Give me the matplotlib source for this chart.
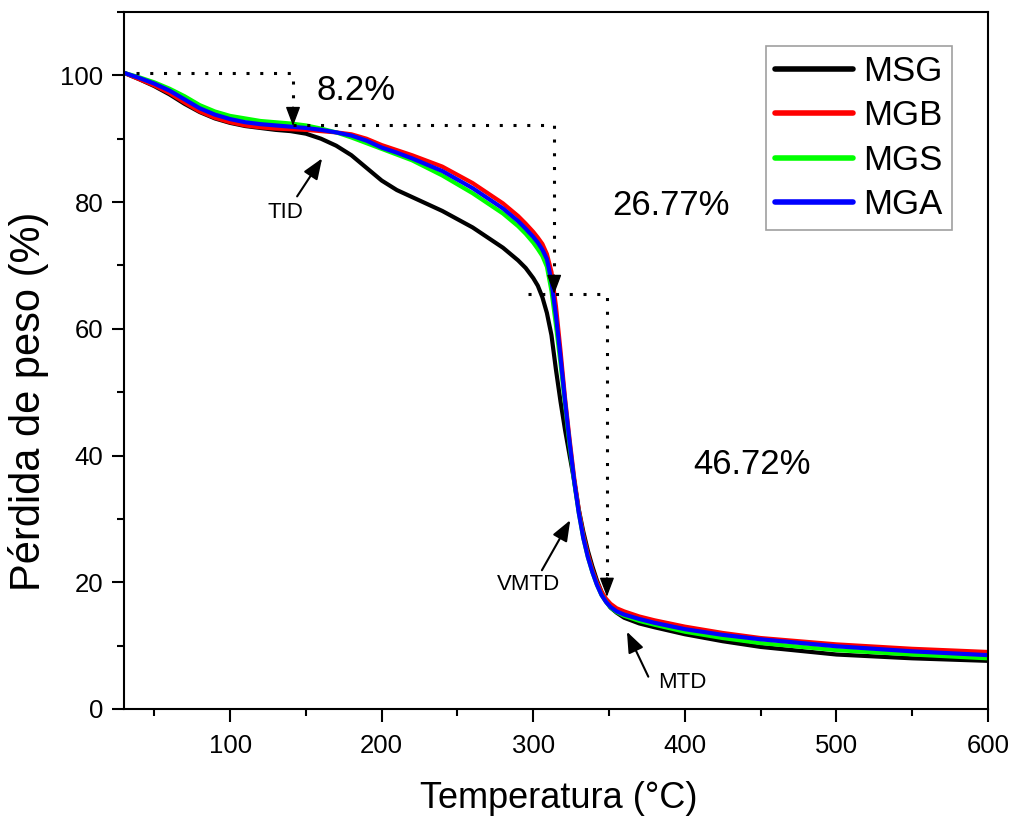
import matplotlib
matplotlib.use("Agg")
import matplotlib.pyplot as plt
from matplotlib.ticker import MultipleLocator

plt.rcParams['font.family'] = ['Liberation Sans', 'DejaVu Sans']

# ---------------- data ----------------
temp = [30, 40, 50, 60, 70, 80, 90, 100, 110, 120, 130, 140, 150, 160, 170, 180, 190,
        200, 210, 220, 240, 260, 280, 290, 295, 300, 303, 306, 309, 312, 315, 318, 321,
        324, 327, 330, 333, 336, 339, 342, 345, 348, 351, 355, 360, 370, 380, 400, 425,
        450, 500, 550, 600]

msg = [100.4, 99.4, 98.3, 97.0, 95.5, 94.2, 93.2, 92.5, 92.0, 91.7, 91.4, 91.2, 90.8, 90.0,
       88.9, 87.4, 85.4, 83.4, 81.9, 80.8, 78.6, 76.0, 72.8, 70.8, 69.6, 68.0, 66.8, 65.0,
       62.5, 59.0, 53.5, 48.5, 44.0, 40.0, 36.0, 31.5, 28.0, 25.0, 22.5, 20.3, 18.5, 17.0,
       16.0, 15.2, 14.4, 13.5, 12.9, 11.8, 10.7, 9.8, 8.6, 8.0, 7.6]

mgb = [100.4, 99.4, 98.4, 97.2, 95.7, 94.3, 93.3, 92.6, 92.1, 91.8, 91.6, 91.5, 91.4, 91.2,
       91.0, 90.7, 90.0, 89.0, 88.2, 87.4, 85.6, 83.0, 79.8, 77.8, 76.6, 75.3, 74.4, 73.4,
       71.8, 69.0, 63.5, 56.5, 49.0, 42.5, 36.5, 31.5, 27.5, 24.5, 22.0, 20.0, 18.5, 17.4,
       16.6, 15.9, 15.4, 14.6, 14.0, 13.0, 12.0, 11.2, 10.2, 9.5, 9.0]

mgs = [100.4, 99.7, 98.9, 97.9, 96.7, 95.3, 94.3, 93.6, 93.2, 92.8, 92.6, 92.4, 92.1, 91.6,
       91.0, 90.2, 89.3, 88.4, 87.5, 86.6, 84.2, 81.4, 78.2, 76.2, 75.0, 73.6, 72.6, 71.5,
       69.8, 66.0, 60.5, 54.5, 48.0, 41.5, 35.8, 31.0, 27.0, 24.0, 21.6, 19.6, 18.0, 16.9,
       16.0, 15.3, 14.7, 13.9, 13.3, 12.2, 11.2, 10.4, 9.3, 8.6, 8.0]

mga = [100.4, 99.6, 98.7, 97.6, 96.2, 94.8, 93.8, 93.1, 92.6, 92.3, 92.1, 91.9, 91.7, 91.4,
       91.0, 90.5, 89.7, 88.6, 87.8, 86.9, 84.9, 82.2, 79.0, 77.0, 75.8, 74.5, 73.6, 72.5,
       71.0, 67.5, 62.0, 55.5, 48.5, 42.0, 36.0, 31.0, 27.0, 24.0, 21.6, 19.6, 18.0, 16.9,
       16.1, 15.4, 14.9, 14.2, 13.6, 12.6, 11.7, 11.0, 9.9, 9.1, 8.5]

series_names = ["MSG", "MGB", "MGS", "MGA"]
series_values = [msg, mgb, mgs, mga]
series_colors = ["#000000", "#ff0000", "#00ff00", "#0000ff"]

# step annotations: (T start, T corner, level, tip level)
step_h_start = [38, 141.5, 296.6]
step_corner = [141.5, 313.8, 348.6]
step_level = [100.4, 92.1, 65.5]
step_tip = [92.0, 65.5, 17.7]
step_labels = ["8.2%", "26.77%", "46.72%"]
step_label_pos = [(356, 90.5), (671, 205.5), (752, 464)]  # pixel centers

point_labels = ["TID", "VMTD", "MTD"]
point_tail = [(144.2, 80.9), (305.7, 21.9), (375.9, 5.1)]
point_tip = [(160.7, 86.9), (324.4, 29.8), (361.8, 12.2)]
point_label_pos = [(285, 212), (529, 585), (682, 682)]  # pixel centers

W, H = 1016, 817
fig = plt.figure(figsize=(W / 100, H / 100), dpi=100)
ax = fig.add_axes([124 / W, (H - 709) / H, 864 / W, 697 / H])

for name, vals, col in zip(series_names, series_values, series_colors):
    ax.plot(temp, vals, color=col, lw=3, label=name, solid_capstyle='round')

ax.set_xlim(30, 600)
ax.set_ylim(0, 110)
ax.xaxis.set_major_locator(MultipleLocator(100))
ax.xaxis.set_minor_locator(MultipleLocator(50))
ax.yaxis.set_major_locator(MultipleLocator(20))
ax.yaxis.set_minor_locator(MultipleLocator(10))
ax.set_yticks([0, 20, 40, 60, 80, 100])
ax.tick_params(which='both', direction='out', width=1.5, top=False, right=False)
ax.tick_params(which='major', length=9, labelsize=18.5)
ax.tick_params(axis='y', which='major', pad=6)
ax.tick_params(axis='x', which='major', pad=9)
ax.tick_params(which='minor', length=5)
for sp in ax.spines.values():
    sp.set_linewidth(1.5)

# dotted step lines with arrowheads
dot = (0, (1, 3.5))
for hs, c, lev, tip in zip(step_h_start, step_corner, step_level, step_tip):
    ax.plot([hs, c, c], [lev, lev, tip + 2.0], color='k', lw=2.2, linestyle=dot,
            dash_capstyle='butt')
    ax.annotate('', xy=(c, tip), xytext=(c, tip + 3.0),
                arrowprops=dict(arrowstyle='-|>,head_length=0.85,head_width=0.32',
                                mutation_scale=14, color='k', lw=1,
                                shrinkA=0, shrinkB=0))

def px(x, y):
    return x / W, 1 - y / H

for lab, (x, y) in zip(step_labels, step_label_pos):
    fig.text(*px(x, y), lab, fontsize=25, ha='center', va='center')

for lab, tail, tip, (x, y) in zip(point_labels, point_tail, point_tip, point_label_pos):
    ax.annotate('', xy=tip, xytext=tail,
                arrowprops=dict(arrowstyle='-|>,head_length=0.9,head_width=0.35',
                                mutation_scale=14, color='k', lw=1.5,
                                shrinkA=0, shrinkB=0))
    fig.text(*px(x, y), lab, fontsize=16, ha='center', va='center')

fig.text(559 / W, 1 - 808 / H, "Temperatura (°C)", fontsize=26, ha='center', va='baseline')
fig.text(40 / W, 1 - 401.5 / H, "Pérdida de peso (%)", fontsize=30, rotation=90,
         rotation_mode='anchor', ha='center', va='baseline')

leg = ax.legend(loc='upper right', bbox_to_anchor=((952 - 124) / 864, (709 - 46) / 697),
                borderaxespad=0, fontsize=25, frameon=True, fancybox=False,
                edgecolor='#a0a0a0', framealpha=1, borderpad=0.26, handlelength=2.25,
                handletextpad=0.3, labelspacing=0.33)
leg.get_frame().set_linewidth(1.2)
for line in leg.get_lines():
    line.set_linewidth(4)

fig.savefig("out.png", dpi=100)
